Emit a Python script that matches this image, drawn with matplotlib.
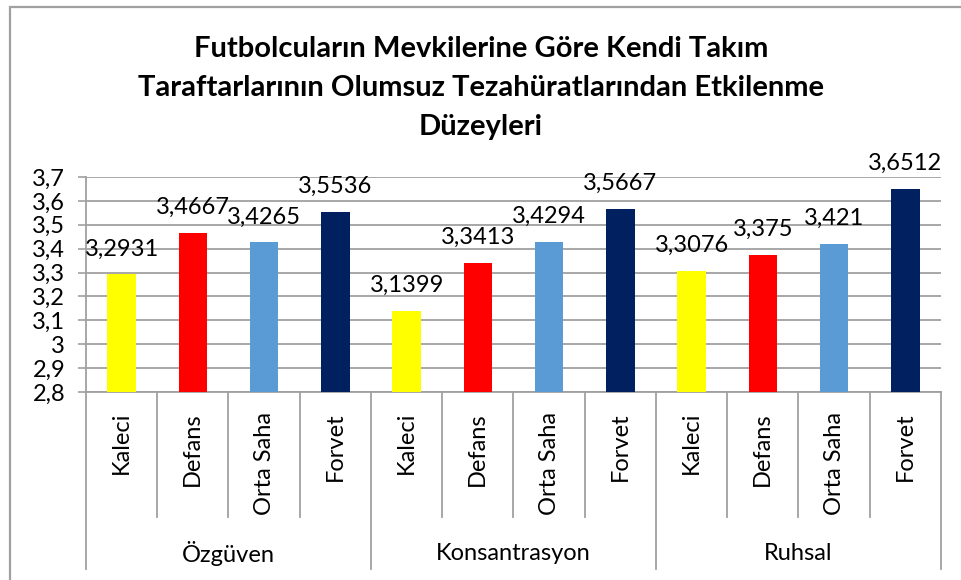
import matplotlib
matplotlib.use("Agg")
import matplotlib.pyplot as plt
import matplotlib.transforms as mtransforms
from matplotlib.patches import Rectangle
from matplotlib.ticker import FuncFormatter, MultipleLocator

plt.rcParams['font.family'] = ['Lato', 'DejaVu Sans']

groups = ["Özgüven", "Konsantrasyon", "Ruhsal"]
positions = ["Kaleci", "Defans", "Orta Saha", "Forvet"]
colors = ["#FFFF00", "#FF0000", "#5B9BD5", "#002060"]
ozguven = [3.2931, 3.4667, 3.4265, 3.5536]
konsantrasyon = [3.1399, 3.3413, 3.4294, 3.5667]
ruhsal = [3.3076, 3.375, 3.421, 3.6512]
title = ("Futbolcuların Mevkilerine Göre Kendi Takım\n"
         "Taraftarlarının Olumsuz Tezahüratlarından Etkilenme\n"
         "Düzeyleri")

values = ozguven + konsantrasyon + ruhsal
n_pos = len(positions)
xs = list(range(len(values)))
bar_colors = colors * len(groups)

W, H = 962, 580
fig = plt.figure(figsize=(W / 100, H / 100), dpi=100)
ax = fig.add_axes([86 / W, 1 - 392 / H, (941 - 86) / W, (392 - 177) / H])

grid_c = "#a0a0a0"
fs = 17
ax.bar(xs, values, width=0.4, color=bar_colors, zorder=3)
ax.set_xlim(-0.5, len(values) - 0.5)
ax.set_ylim(2.8, 3.7)
ax.yaxis.set_major_locator(MultipleLocator(0.1))
ax.yaxis.set_major_formatter(FuncFormatter(lambda v, p: f"{round(v, 1):g}".replace(".", ",")))
ax.grid(axis="y", color=grid_c, linewidth=1.3, zorder=0)
ax.tick_params(axis="y", length=6, width=1.2, color=grid_c, labelsize=fs, pad=9)
ax.tick_params(axis="x", bottom=False, labelbottom=False)
for s in ["top", "right"]:
    ax.spines[s].set_visible(False)
for s in ["left", "bottom"]:
    ax.spines[s].set_color(grid_c)
    ax.spines[s].set_linewidth(1.3)

for x, v in zip(xs, values):
    ax.annotate(f"{v}".replace(".", ","), (x, v), xytext=(0, 13.5),
                textcoords="offset points", ha="center", va="baseline", fontsize=fs)

# multi-level category axis
trans = mtransforms.blended_transform_factory(ax.transData, ax.transAxes)
ax_h = 392 - 177
short = -125 / ax_h
long_ = -177 / ax_h
for i in range(len(values) + 1):
    y_end = long_ if i % n_pos == 0 else short
    ax.plot([i - 0.5, i - 0.5], [0, y_end], color=grid_c, linewidth=1.3,
            transform=trans, clip_on=False)
for x, lab in zip(xs, positions * len(groups)):
    ax.text(x, -20 / ax_h, lab, rotation=90, ha="center", va="top",
            fontsize=fs, transform=trans)
for g, name in enumerate(groups):
    ax.text(g * n_pos + (n_pos - 1) / 2, -(553 - 392) / ax_h, name, ha="center",
            va="center", fontsize=fs, transform=trans)

fig.text(0.5, 1 - 88 / H, title, ha="center", va="center", fontsize=21,
         fontweight="bold", linespacing=1.63)

fig.add_artist(Rectangle((10 / W, -0.1), 1.2, 1.1 - 7 / H, transform=fig.transFigure,
                         fill=False, edgecolor=grid_c, linewidth=1.6))

fig.savefig("out.png", dpi=100)
